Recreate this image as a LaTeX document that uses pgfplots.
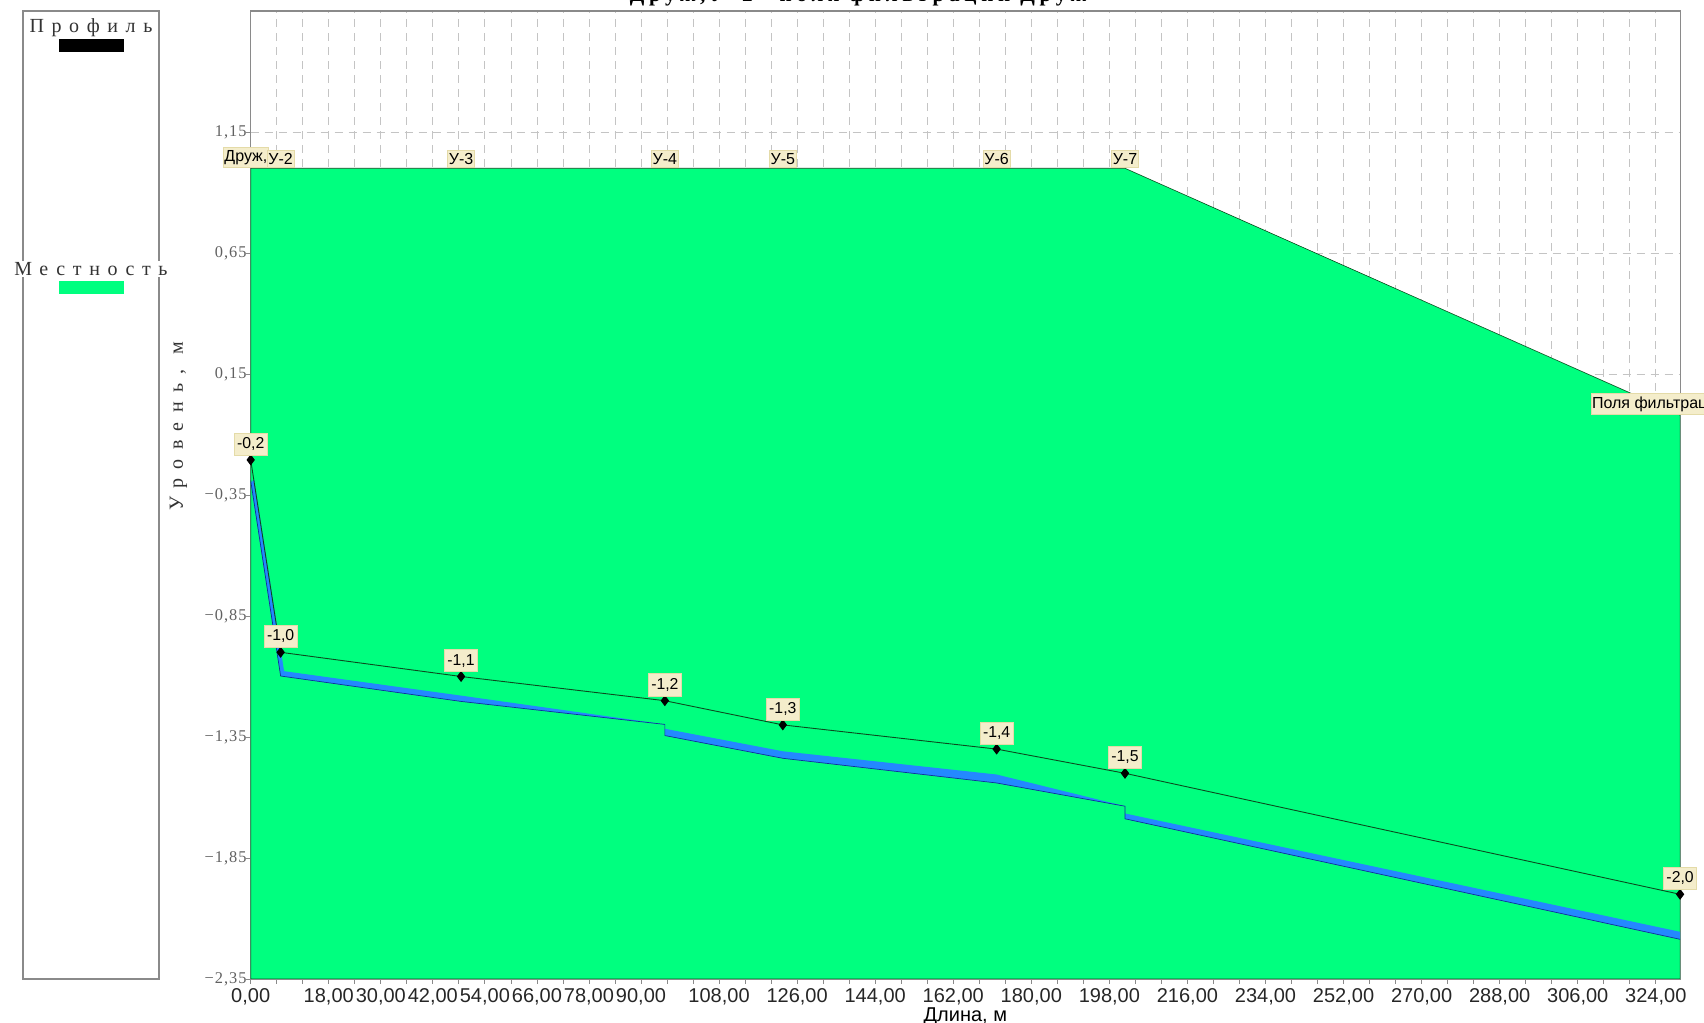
\documentclass[border=0pt]{standalone}
\usepackage{fontspec}
\usepackage{pgfplots}
\pgfplotsset{compat=1.18}
\setmainfont{Liberation Sans}
\newfontfamily\serspaced[LetterSpace=6]{Liberation Serif}
\newfontfamily\serwide[LetterSpace=38]{Liberation Serif}
\newfontfamily\serylab[LetterSpace=47]{Liberation Serif}
\newfontfamily\serbold[LetterSpace=22]{Liberation Serif Bold}
\definecolor{terrain}{HTML}{00FF7F}
\definecolor{water}{HTML}{2488FF}
\definecolor{waterline}{HTML}{10309A}
\definecolor{framec}{HTML}{8A8A8A}
\definecolor{gridc}{HTML}{C4C4C4}
\definecolor{labelbg}{HTML}{F4EDCB}
\definecolor{labeldraw}{HTML}{E4DBA8}
\definecolor{profilec}{HTML}{0B4A1E}
\begin{document}
\begin{tikzpicture}[x=0.5pt,y=0.5pt]
\path[use as bounding box] (0,0) rectangle (1704,1023);
% title, cut by the top of the page
\node[anchor=base,font=\serbold\fontsize{10.6pt}{11pt}\selectfont,inner sep=0pt] at (858,1021) {Друж,У-2 - поля фильтрации Друж};
% legend panel
\draw[framec,line width=0.6pt,fill=white] (23,44) rectangle (159,1012);
\node[font=\serwide\fontsize{10pt}{10pt}\selectfont,text=black!80,fill=white,inner sep=0.5pt] at (91,995) {Профиль};
\fill[black] (59,971) rectangle (124,984);
\node[font=\serwide\fontsize{10pt}{10pt}\selectfont,text=black!80,fill=white,inner sep=0.5pt] at (91,754) {Местность};
\fill[terrain] (59,729) rectangle (124,742);
\begin{axis}[
  at={(125.35pt,22pt)},anchor=south west,
  scale only axis,width=714.7pt,height=484pt,
  xmin=0,xmax=329.6,ymin=-2.35,ymax=1.65,
  axis line style={framec,line width=0.6pt},
  axis on top=false,
  xtick={0,18,30,42,54,66,78,90,108,126,144,162,180,198,216,234,252,270,288,306,324},
  xticklabels={0{,}00,18{,}00,30{,}00,42{,}00,54{,}00,66{,}00,78{,}00,90{,}00,108{,}00,126{,}00,144{,}00,162{,}00,180{,}00,198{,}00,216{,}00,234{,}00,252{,}00,270{,}00,288{,}00,306{,}00,324{,}00},
  minor xtick={6,12,24,36,48,60,72,84,96,102,114,120,132,138,150,156,168,174,186,192,204,210,222,228,240,246,258,264,276,282,294,300,312,318},
  ytick={-2.35,-1.85,-1.35,-0.85,-0.35,0.15,0.65,1.15},
  yticklabels={−2{,}35,−1{,}85,−1{,}35,−0{,}85,−0{,}35,0{,}15,0{,}65,1{,}15},
  xticklabel style={font=\fontsize{10pt}{10pt}\selectfont,text=black!85,inner sep=0pt,yshift=-2pt},
  yticklabel style={font=\serspaced\fontsize{8.2pt}{8pt}\selectfont,text=black!62,inner sep=0pt,xshift=0.6pt},
  tick style={framec,line width=0.4pt},
  major tick length=2.5pt,minor tick length=2.5pt,
  tick align=outside,
  xtick pos=bottom,ytick pos=left,
  grid=both,
  major grid style={gridc,line width=0.4pt,dash pattern=on 4pt off 3pt},
  minor grid style={gridc,line width=0.4pt,dash pattern=on 4pt off 3pt},
  xlabel={Длина, м},
  xlabel style={font=\fontsize{10pt}{10pt}\selectfont,at={(axis description cs:0.5,0)},anchor=north,yshift=-14pt,inner sep=0pt},
  ylabel={Уровень, м},
  ylabel style={font=\serylab\fontsize{10pt}{10pt}\selectfont,text=black!80,at={(axis description cs:-0.0505,0.571)},anchor=center,inner sep=0pt},
  clip=true,
  nodes near coords style={anchor=south,fill=labelbg,draw=labeldraw,line width=0.3pt,inner xsep=1.4pt,inner ysep=2.3pt,font=\fontsize{7.9pt}{9pt}\selectfont,text=black},
]
% terrain
\addplot[fill=terrain,draw=profilec,line width=0.3pt] coordinates {(0,-2.35)(0,1)(201.6,1)(329.6,-0.02)(329.6,-2.35)} -- cycle;
% water band
\addplot[fill=water,draw=none] coordinates {(0.8,-0.285)(7.7,-1.078)(48.5,-1.179)(95.5,-1.298)(95.5,-1.316)(122.7,-1.409)(172,-1.505)(201.6,-1.636)(201.6,-1.666)(329.6,-2.155)(329.6,-2.186)(201.6,-1.688)(201.6,-1.636)(172,-1.54)(122.7,-1.438)(95.5,-1.344)(95.5,-1.298)(48.5,-1.203)(6.9,-1.098)(0,-0.30)} -- cycle;
% water bottom line
\addplot[waterline,line width=0.35pt] coordinates {(0,-0.29)(6.9,-1.098)(48.5,-1.203)(95.5,-1.298)(95.5,-1.344)(122.7,-1.438)(172,-1.54)(201.6,-1.636)(201.6,-1.688)(329.6,-2.186)};
% profile
\addplot[profilec,line width=0.45pt,mark=diamond*,mark size=2.4pt,mark options={fill=black,draw=black,solid}] coordinates {(0,-0.205)(6.9,-1.0)(48.5,-1.1)(95.5,-1.2)(122.7,-1.3)(172,-1.4)(201.6,-1.5)(329.6,-2.0)};
% level labels
\addplot[only marks,mark=none,point meta=explicit symbolic,nodes near coords,nodes near coords style={yshift=2.2pt}] coordinates {(0,-0.205)[{-0,2}] (6.9,-1.0)[{-1,0}] (48.5,-1.1)[{-1,1}] (95.5,-1.2)[{-1,2}] (122.7,-1.3)[{-1,3}] (172,-1.4)[{-1,4}] (201.6,-1.5)[{-1,5}] (329.6,-2.0)[{-2,0}]};
% node names on the terrain
\addplot[only marks,mark=none,point meta=explicit symbolic,nodes near coords,nodes near coords style={yshift=0.2pt,xshift=-2.4pt,inner ysep=1.5pt,inner xsep=0.6pt,font=\fontsize{8pt}{8pt}\selectfont}] coordinates {(0,1)[{Друж,}]};
\addplot[only marks,mark=none,point meta=explicit symbolic,nodes near coords,nodes near coords style={yshift=0.2pt,inner ysep=1.5pt,inner xsep=0.6pt,font=\fontsize{8pt}{8pt}\selectfont}] coordinates {(6.9,1)[{У-2}] (48.5,1)[{У-3}] (95.5,1)[{У-4}] (122.7,1)[{У-5}] (172,1)[{У-6}] (201.6,1)[{У-7}] (329.6,-0.02)[{Поля фильтрации Друж}]};
\end{axis}
\end{tikzpicture}
\end{document}
